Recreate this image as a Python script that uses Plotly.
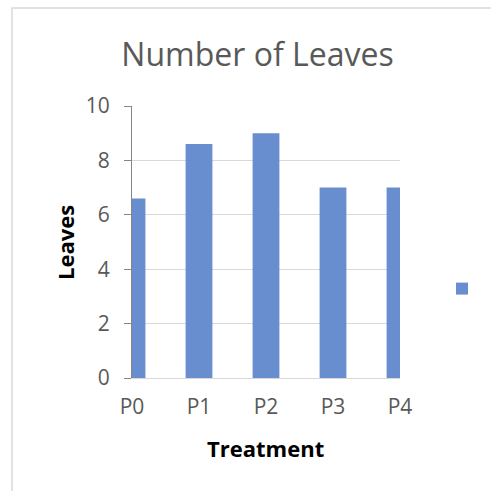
import plotly.graph_objects as go

treatments = ["P0", "P1", "P2", "P3", "P4"]
leaves = [6.6, 8.6, 9.0, 7.0, 7.0]
y_ticks = [0, 2, 4, 6, 8, 10]

W, H = 491, 491
L, R, T, B = 132, 400, 106, 378  # plot area px
pw, ph = R - L, B - T

def px_x(x):
    return (x - L) / pw

def px_y(y):
    return (B - y) / ph

FONT = "Open Sans"
GRAY = "#595959"

fig = go.Figure()
fig.add_trace(go.Bar(
    x=treatments, y=leaves, name="", width=0.4,
    marker=dict(color="#698ED0", line=dict(width=0)),
    showlegend=True,
))

fig.update_layout(
    width=W, height=H,
    margin=dict(l=L, r=W - R, t=T, b=H - B, pad=0, autoexpand=False),
    paper_bgcolor="white", plot_bgcolor="white",
    font=dict(family=FONT, color=GRAY),
    title=dict(text="Number of Leaves", x=257.5 / W, xanchor="center", xref="container",
               y=1 - 55 / H, yanchor="middle", yref="container",
               font=dict(size=32, color=GRAY, family=FONT)),
    xaxis=dict(type="category", range=[0, 4], showgrid=False, showline=True,
               linecolor="#d9d9d9", linewidth=1, ticks="", tickfont=dict(size=21, color=GRAY),
               ticklabelstandoff=10, zeroline=False),
    yaxis=dict(range=[0, 10], tickvals=y_ticks, showgrid=True, gridcolor="#d9d9d9", gridwidth=1,
               showline=True, linecolor="#868686", linewidth=1, ticks="outside", ticklen=7,
               tickcolor="#868686", tickfont=dict(size=21, color=GRAY), ticklabelstandoff=10,
               zeroline=False),
    legend=dict(x=px_x(442), y=px_y(289), xanchor="left", yanchor="middle",
                bgcolor="rgba(0,0,0,0)", font=dict(size=14), itemwidth=30),
    shapes=[dict(type="rect", xref="paper", yref="paper",
                 x0=px_x(12), x1=px_x(600), y0=px_y(600), y1=px_y(8),
                 line=dict(color="#d9d9d9", width=1.5), fillcolor="rgba(0,0,0,0)", layer="below")],
    annotations=[
        dict(text="<b>Leaves</b>", x=px_x(65), y=px_y(243), xref="paper", yref="paper",
             textangle=-90, showarrow=False, font=dict(size=22, color="black", family=FONT),
             xanchor="center", yanchor="middle"),
        dict(text="<b>Treatment</b>", x=px_x(265.5), y=px_y(448), xref="paper", yref="paper",
             showarrow=False, font=dict(size=22, color="black", family=FONT),
             xanchor="center", yanchor="middle"),
    ],
)
fig.write_html("out.html", config={"displayModeBar": False},
               post_script="document.body.style.margin='0';")
